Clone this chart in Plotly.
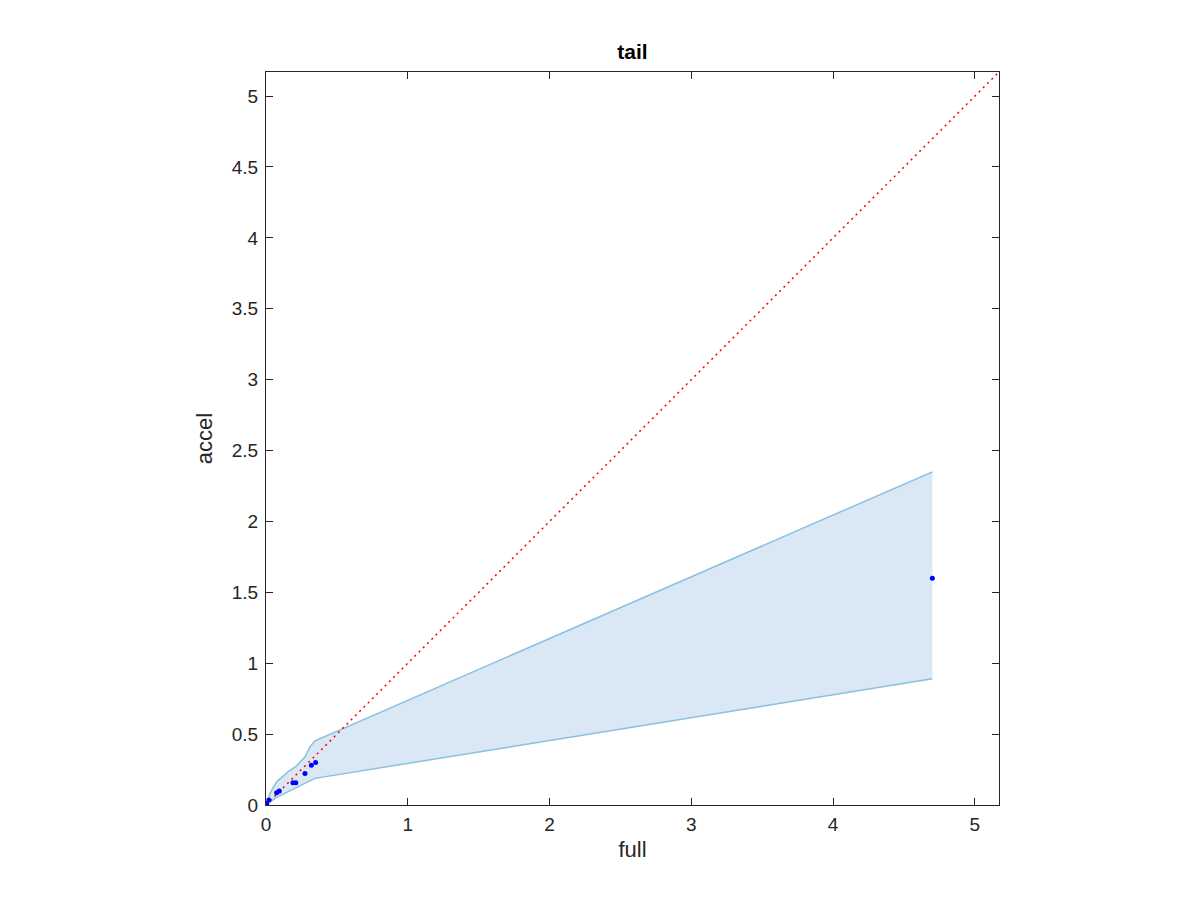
import plotly.graph_objects as go

# Data
pts_x = [0.0, 0.005, 0.02, 0.075, 0.094, 0.19, 0.21, 0.275, 0.32, 0.35, 4.70]
pts_y = [0.0, 0.01, 0.035, 0.087, 0.099, 0.157, 0.157, 0.223, 0.28, 0.30, 1.60]

upper_x = [0.0, 0.028, 0.075, 0.157, 0.209, 0.275, 0.31, 0.345, 4.70]
upper_y = [0.0, 0.082, 0.164, 0.235, 0.27, 0.34, 0.41, 0.453, 2.35]

lower_x = [0.0, 0.063, 0.157, 0.251, 0.298, 0.345, 4.70]
lower_y = [0.0, 0.047, 0.094, 0.141, 0.164, 0.188, 0.89]

diag = [0.0, 5.17]

x_ticks = [0, 1, 2, 3, 4, 5]
y_ticks = [0, 0.5, 1, 1.5, 2, 2.5, 3, 3.5, 4, 4.5, 5]
y_tick_labels = ["0", "0.5", "1", "1.5", "2", "2.5", "3", "3.5", "4", "4.5", "5"]

fig = go.Figure()

# filled band polygon
fig.add_trace(go.Scatter(
    x=upper_x + lower_x[::-1], y=upper_y + lower_y[::-1],
    mode="lines", fill="toself", fillcolor="rgb(217,232,244)",
    line=dict(width=0, color="rgba(0,0,0,0)"), hoverinfo="skip", showlegend=False))
fig.add_trace(go.Scatter(x=upper_x, y=upper_y, mode="lines",
                         line=dict(color="rgb(138,191,224)", width=1.5), showlegend=False))
fig.add_trace(go.Scatter(x=lower_x, y=lower_y, mode="lines",
                         line=dict(color="rgb(138,191,224)", width=1.5), showlegend=False))
# diagonal
fig.add_trace(go.Scatter(x=diag, y=diag, mode="lines",
                         line=dict(color="red", width=1.5, dash="2px,4px"), showlegend=False))
# points
fig.add_trace(go.Scatter(x=pts_x, y=pts_y, mode="markers",
                         marker=dict(color="blue", size=5), showlegend=False))

axis_common = dict(
    showline=True, linecolor="#262626", linewidth=1.2, mirror="ticks",
    ticks="inside", ticklen=7, tickcolor="#262626", tickwidth=1.2,
    showgrid=False, zeroline=False,
    tickfont=dict(family="Liberation Sans, Arial, sans-serif", size=19, color="#262626"),
)

fig.update_layout(
    width=1200, height=900,
    margin=dict(l=258, r=209, t=64, b=103),
    paper_bgcolor="white", plot_bgcolor="white",
    font=dict(family="Liberation Sans, Arial, sans-serif", color="#262626"),
    title=dict(text="<b>tail</b>", x=624.5 / 1200, xanchor="center",
               y=1 - 44 / 900, yanchor="middle",
               font=dict(size=21, color="black")),
    xaxis=dict(range=[0, 5.17], tickvals=x_ticks, ticktext=[str(v) for v in x_ticks],
               ticklabelstandoff=2,
               title=dict(text="full", font=dict(size=22), standoff=7), **axis_common),
    yaxis=dict(range=[0, 5.17], tickvals=y_ticks, ticktext=y_tick_labels,
               ticklabelstandoff=3,
               title=dict(text="accel", font=dict(size=22), standoff=12), **axis_common),
)

fig.write_html("out.html")
